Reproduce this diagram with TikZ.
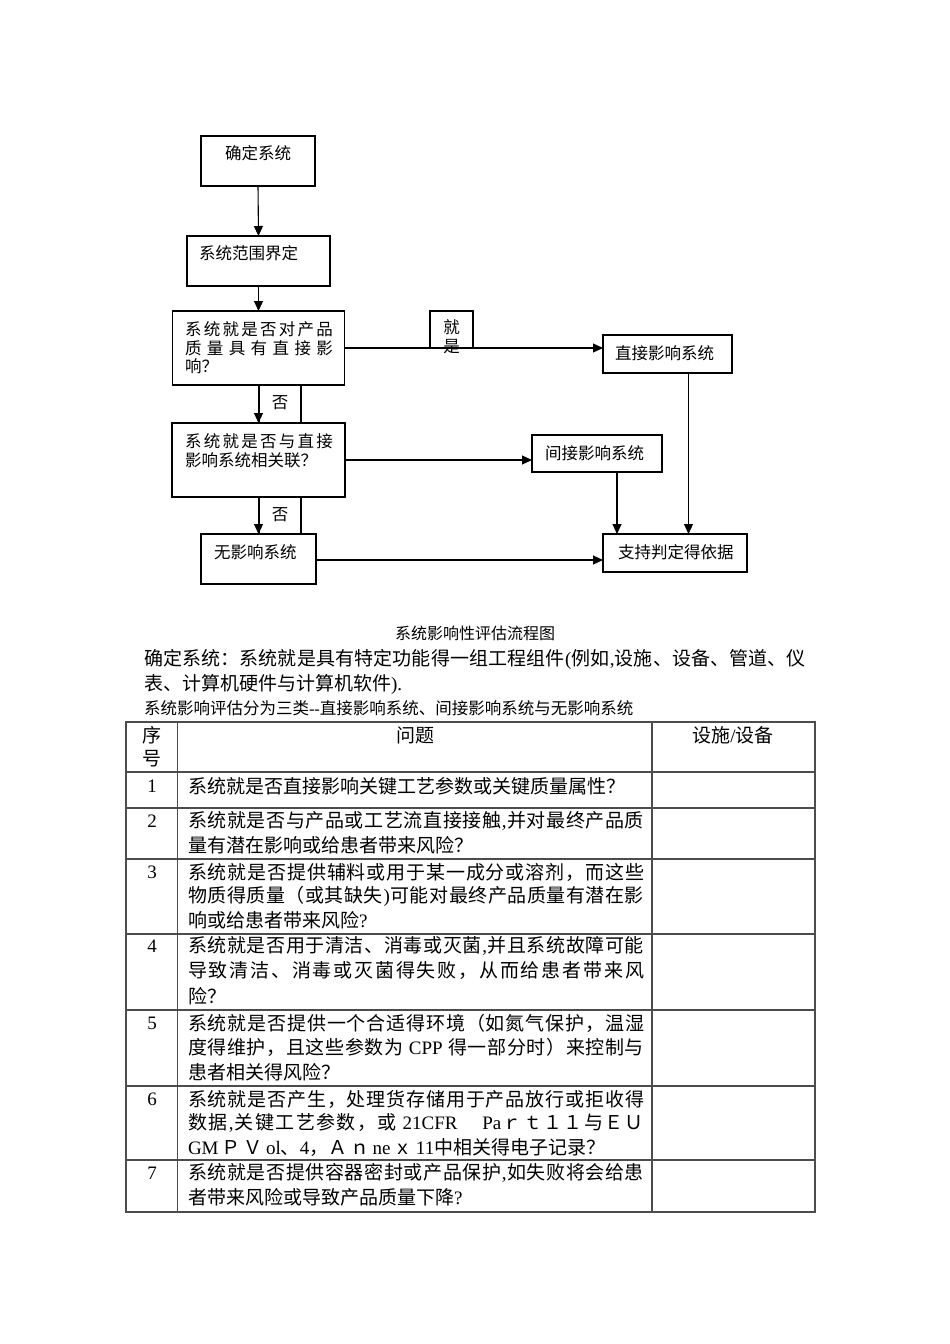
\documentclass[tikz,border=0pt]{standalone}
\usepackage{fontspec}
\setmainfont{Noto Sans CJK SC}
\newfontfamily\lat{Liberation Serif}
\usetikzlibrary{arrows.meta}
\newcommand\fflow{\fontsize{16.5}{20}\selectfont}
\newcommand\fcap{\fontsize{16}{20}\selectfont}
\newcommand\fbody{\fontsize{19}{24}\selectfont}
\makeatletter
\def\SpreadText#1{\spr@first#1\spr@end}
\def\spr@first#1{{#1}\spr@next}
\def\spr@next#1{\ifx\spr@end#1\else\hskip 0pt plus 1fil{#1}\expandafter\spr@next\fi}
\def\spr@end{\relax}
\makeatother
\newcommand\LineJ[5]{\node[#1,anchor=west] (#2) at (#3) {\makebox[#4][s]{\SpreadText{#5}}};}
\newcommand\LineN[4]{\node[#1,anchor=west] (#2) at (#3) {#4};}
\begin{document}
\begin{tikzpicture}[x=1pt,y=-1pt,
  box/.style={draw,line width=1.1pt,inner sep=0,outer sep=0},
  ft/.style={inner sep=0,outer sep=0,font=\fflow},
  bt/.style={inner sep=0,outer sep=0,font=\fbody},
  ct/.style={inner sep=0,outer sep=0,font=\fcap},
  arr/.style={-{Triangle[length=10pt,width=9pt]},line width=1.1pt},
  grid/.style={line width=1.1pt,draw=black!70}]
\path[fill=white] (0,0) rectangle (950,1344);

% ---------- flowchart boxes ----------
\node[box,minimum width=114pt,minimum height=50pt] (b1) at (258,161) {};
\node[box,minimum width=143pt,minimum height=50pt] (b2) at (258.5,261) {};
\node[box,minimum width=172pt,minimum height=74pt] (q1) at (258.5,348) {};
\node[box,minimum width=43pt,minimum height=37pt] (yes) at (451.5,329.5) {};
\node[box,minimum width=129pt,minimum height=38pt] (d) at (667.5,354) {};
\node[box,minimum width=42pt,minimum height=38pt] (no1) at (280,404) {};
\node[box,minimum width=173pt,minimum height=74pt] (q2) at (258.5,460) {};
\node[box,minimum width=130pt,minimum height=37pt] (i) at (597,453.5) {};
\node[box,minimum width=42pt,minimum height=37pt] (no2) at (280,515.5) {};
\node[box,minimum width=115pt,minimum height=50pt] (n) at (258.5,559) {};
\node[box,minimum width=144pt,minimum height=38pt] (s) at (675,553) {};

% ---------- flowchart texts ----------
\LineN{ft}{t1}{225,153}{确定系统}
\LineN{ft}{t2}{199,253}{系统范围界定}
\LineJ{ft}{tq1a}{185,329}{148pt}{系统就是否对产品}
\LineJ{ft}{tq1b}{185,348}{148pt}{质量具有直接影}
\LineN{ft}{tq1c}{185,366}{响？}
\node[ft] (ty1) at (451.5,327) {就};
\node[ft] (ty2) at (451.5,347) {是};
\LineN{ft}{td}{615,353}{直接影响系统}
\node[ft] (tn1) at (280,403) {否};
\LineJ{ft}{tq2a}{185,441}{148pt}{系统就是否与直接}
\LineN{ft}{tq2b}{185,460}{影响系统相关联？}
\LineN{ft}{ti}{545,453}{间接影响系统}
\node[ft] (tn2) at (280,515) {否};
\LineN{ft}{tn}{214,552}{无影响系统}
\LineN{ft}{ts}{618,552}{支持判定得依据}

% ---------- connectors ----------
\draw[arr] (b1.south) -- (b2.north);
\draw[arr] (b2.south) -- (q1.north);
\draw[arr] (q1.south) -- (q2.north);
\draw[arr] (q2.south) -- (n.north);
\draw[arr] (q1.east) -- (q1.east -| d.west);
\draw[arr] (q2.east) -- (q2.east -| i.west);
\draw[arr] ([yshift=-1pt]n.east) -- ([yshift=-1pt]n.east -| s.west);
\draw[arr] ([xshift=20pt]i.south) -- ([xshift=20pt]i.south |- s.north);
\draw[arr] ([xshift=21pt]d.south) -- ([xshift=21pt]d.south |- s.north);

% ---------- caption and paragraph ----------
\node[ct] (cap) at (475,633) {系统影响性评估流程图};
\LineJ{bt}{p1}{144,659}{662pt}{确定系统：系统就是具有特定功能得一组工程组件{\lat (}例如{\lat ,}设施、设备、管道、仪}
\LineN{bt}{p2}{144,684}{表、计算机硬件与计算机软件{\lat ).}}
\LineN{ft}{p3}{144,708}{系统影响评估分为三类{\lat -{}-}直接影响系统、间接影响系统与无影响系统}

% ---------- table ----------
\draw[grid] (126,722) rectangle (815,1212);
\draw[grid] (177.5,722) -- (177.5,1212);
\draw[grid] (652,722) -- (652,1212);
\foreach \yy in {772,808,859,934,1010,1086,1160} \draw[grid] (126,\yy) -- (815,\yy);

\node[bt] (h1) at (152,735) {序};
\node[bt] (h2) at (152,759) {号};
\node[bt] (h3) at (415,735) {问题};
\node[bt] (h4) at (733,735) {设施{\lat /}设备};

\node[bt,font=\fbody\lat] (n1) at (152,786) {1};
\node[bt,font=\fbody\lat] (n2) at (152,821) {2};
\node[bt,font=\fbody\lat] (n3) at (152,872) {3};
\node[bt,font=\fbody\lat] (n4) at (152,946) {4};
\node[bt,font=\fbody\lat] (n5) at (152,1023) {5};
\node[bt,font=\fbody\lat] (n6) at (152,1099) {6};
\node[bt,font=\fbody\lat] (n7) at (152,1173) {7};

\LineN{bt}{r1}{188,786}{系统就是否直接影响关键工艺参数或关键质量属性？}
\LineJ{bt}{r2a}{188,821}{456pt}{系统就是否与产品或工艺流直接接触{\lat ,}并对最终产品质}
\LineN{bt}{r2b}{188,845}{量有潜在影响或给患者带来风险？}
\LineJ{bt}{r3a}{188,872}{456pt}{系统就是否提供辅料或用于某一成分或溶剂，而这些}
\LineJ{bt}{r3b}{188,896}{456pt}{物质得质量（或其缺失{\lat )}可能对最终产品质量有潜在影}
\LineN{bt}{r3c}{188,920}{响或给患者带来风险{\lat ?}}
\LineJ{bt}{r4a}{188,946}{456pt}{系统就是否用于清洁、消毒或灭菌{\lat ,}并且系统故障可能}
\LineJ{bt}{r4b}{188,971}{456pt}{导致清洁、消毒或灭菌得失败，从而给患者带来风}
\LineN{bt}{r4c}{188,996}{险？}
\LineJ{bt}{r5a}{188,1023}{456pt}{系统就是否提供一个合适得环境（如氮气保护，温湿}
\LineJ{bt}{r5b}{188,1047}{456pt}{度得维护，且这些参数为{\lat\ CPP\ }得一部分时）来控制与}
\LineN{bt}{r5c}{188,1072}{患者相关得风险？}
\LineJ{bt}{r6a}{188,1099}{456pt}{系统就是否产生，处理货存储用于产品放行或拒收得}
\LineJ{bt}{r6b}{188,1123}{456pt}{数据{\lat ,}关键工艺参数，或{\lat\ 21CFR}{\hspace{22pt}}{\lat Pa}ｒｔ１１与ＥＵ}
\LineN{bt}{r6c}{188,1148}{{\lat GM}\,Ｐ\,Ｖ\,{\lat ol}、{\lat 4}，Ａ\,ｎ\,{\lat ne}\,ｘ\,{\lat 11}中相关得电子记录？}
\LineJ{bt}{r7a}{188,1173}{456pt}{系统就是否提供容器密封或产品保护{\lat ,}如失败将会给患}
\LineN{bt}{r7b}{188,1197}{者带来风险或导致产品质量下降{\lat ?}}
\end{tikzpicture}
\end{document}
